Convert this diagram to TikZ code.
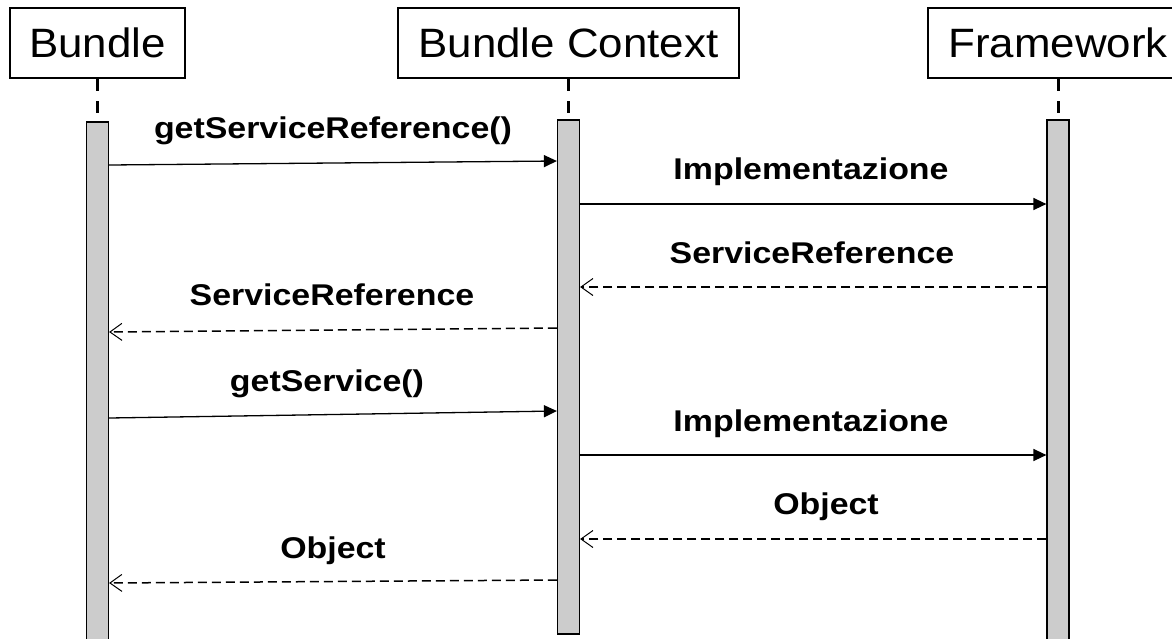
\documentclass[tikz,border=0pt]{standalone}
\usepackage{fontspec}
\setmainfont[FakeStretch=1.13]{Liberation Sans}
\newfontfamily\headfont[FakeStretch=1.07]{Liberation Sans}
\usetikzlibrary{arrows.meta}
\definecolor{barfill}{HTML}{CCCCCC}
\begin{document}
\begin{tikzpicture}[x=1pt,y=-1pt,
  head/.style={draw, line width=2pt, minimum height=70pt, inner sep=0pt, font=\headfont\fontsize{41}{42}\selectfont},
  bar/.style={draw, fill=barfill, line width=1.2pt, minimum width=22pt, inner sep=0pt},
  life/.style={line width=3pt, dash pattern=on 12pt off 10pt},
  call/.style={line width=1.3pt, -{Triangle[length=13pt,width=12pt]}},
  ret/.style={line width=1.5pt, dash pattern=on 9pt off 5pt, -{Straight Barb[length=12pt,width=17pt,line width=1pt]}},
  lbl/.style={font=\fontsize{30}{31}\selectfont\bfseries, inner sep=0pt, anchor=base}]
\useasboundingbox (0,0) rectangle (1172,638);
% headers
\node[head, minimum width=175pt] (bundle) at (97.5,43) {Bundle};
\node[head, minimum width=341pt] (ctx) at (568.5,43) {Bundle Context};
\node[head, minimum width=260pt] (fw) at (1058,43) {Framework};
% activation bars
\node[bar, minimum height=528pt] (bbar) at (97.5,386) {};
\node[bar, minimum height=514pt] (cbar) at (568.5,377) {};
\node[bar, minimum height=530pt] (fbar) at (1058,385) {};
% lifelines
\draw[life] (bundle.south) -- (bbar.north);
\draw[life] (ctx.south) -- (cbar.north);
\draw[life] (fw.south) -- (fbar.north);
% message end points
\coordinate (m1a) at (bbar.east |- 0,165);
\coordinate (m1b) at (cbar.west |- 0,161);
\coordinate (m2a) at (cbar.east |- 0,204);
\coordinate (m2b) at (fbar.west |- 0,204);
\coordinate (m3a) at (fbar.west |- 0,287);
\coordinate (m3b) at (cbar.east |- 0,287);
\coordinate (m4a) at (cbar.west |- 0,328);
\coordinate (m4b) at (bbar.east |- 0,332);
\coordinate (m5a) at (bbar.east |- 0,418);
\coordinate (m5b) at (cbar.west |- 0,411);
\coordinate (m6a) at (cbar.east |- 0,455);
\coordinate (m6b) at (fbar.west |- 0,455);
\coordinate (m7a) at (fbar.west |- 0,539);
\coordinate (m7b) at (cbar.east |- 0,539);
\coordinate (m8a) at (cbar.west |- 0,580);
\coordinate (m8b) at (bbar.east |- 0,583);
% messages
\draw[call] (m1a) -- (m1b);
\draw[call] (m2a) -- (m2b);
\draw[ret] (m3a) -- (m3b);
\draw[ret] (m4a) -- (m4b);
\draw[call] (m5a) -- (m5b);
\draw[call] (m6a) -- (m6b);
\draw[ret] (m7a) -- (m7b);
\draw[ret] (m8a) -- (m8b);
% labels
\node[lbl] (l1) at (333,138) {getServiceReference()};
\node[lbl] (l2) at (811,179) {Implementazione};
\node[lbl] (l3) at (812,263) {ServiceReference};
\node[lbl] (l4) at (332,305) {ServiceReference};
\node[lbl] (l5) at (327,391) {getService()};
\node[lbl] (l6) at (811,431) {Implementazione};
\node[lbl] (l7) at (826,514) {Object};
\node[lbl] (l8) at (333,558) {Object};
\end{tikzpicture}
\end{document}
